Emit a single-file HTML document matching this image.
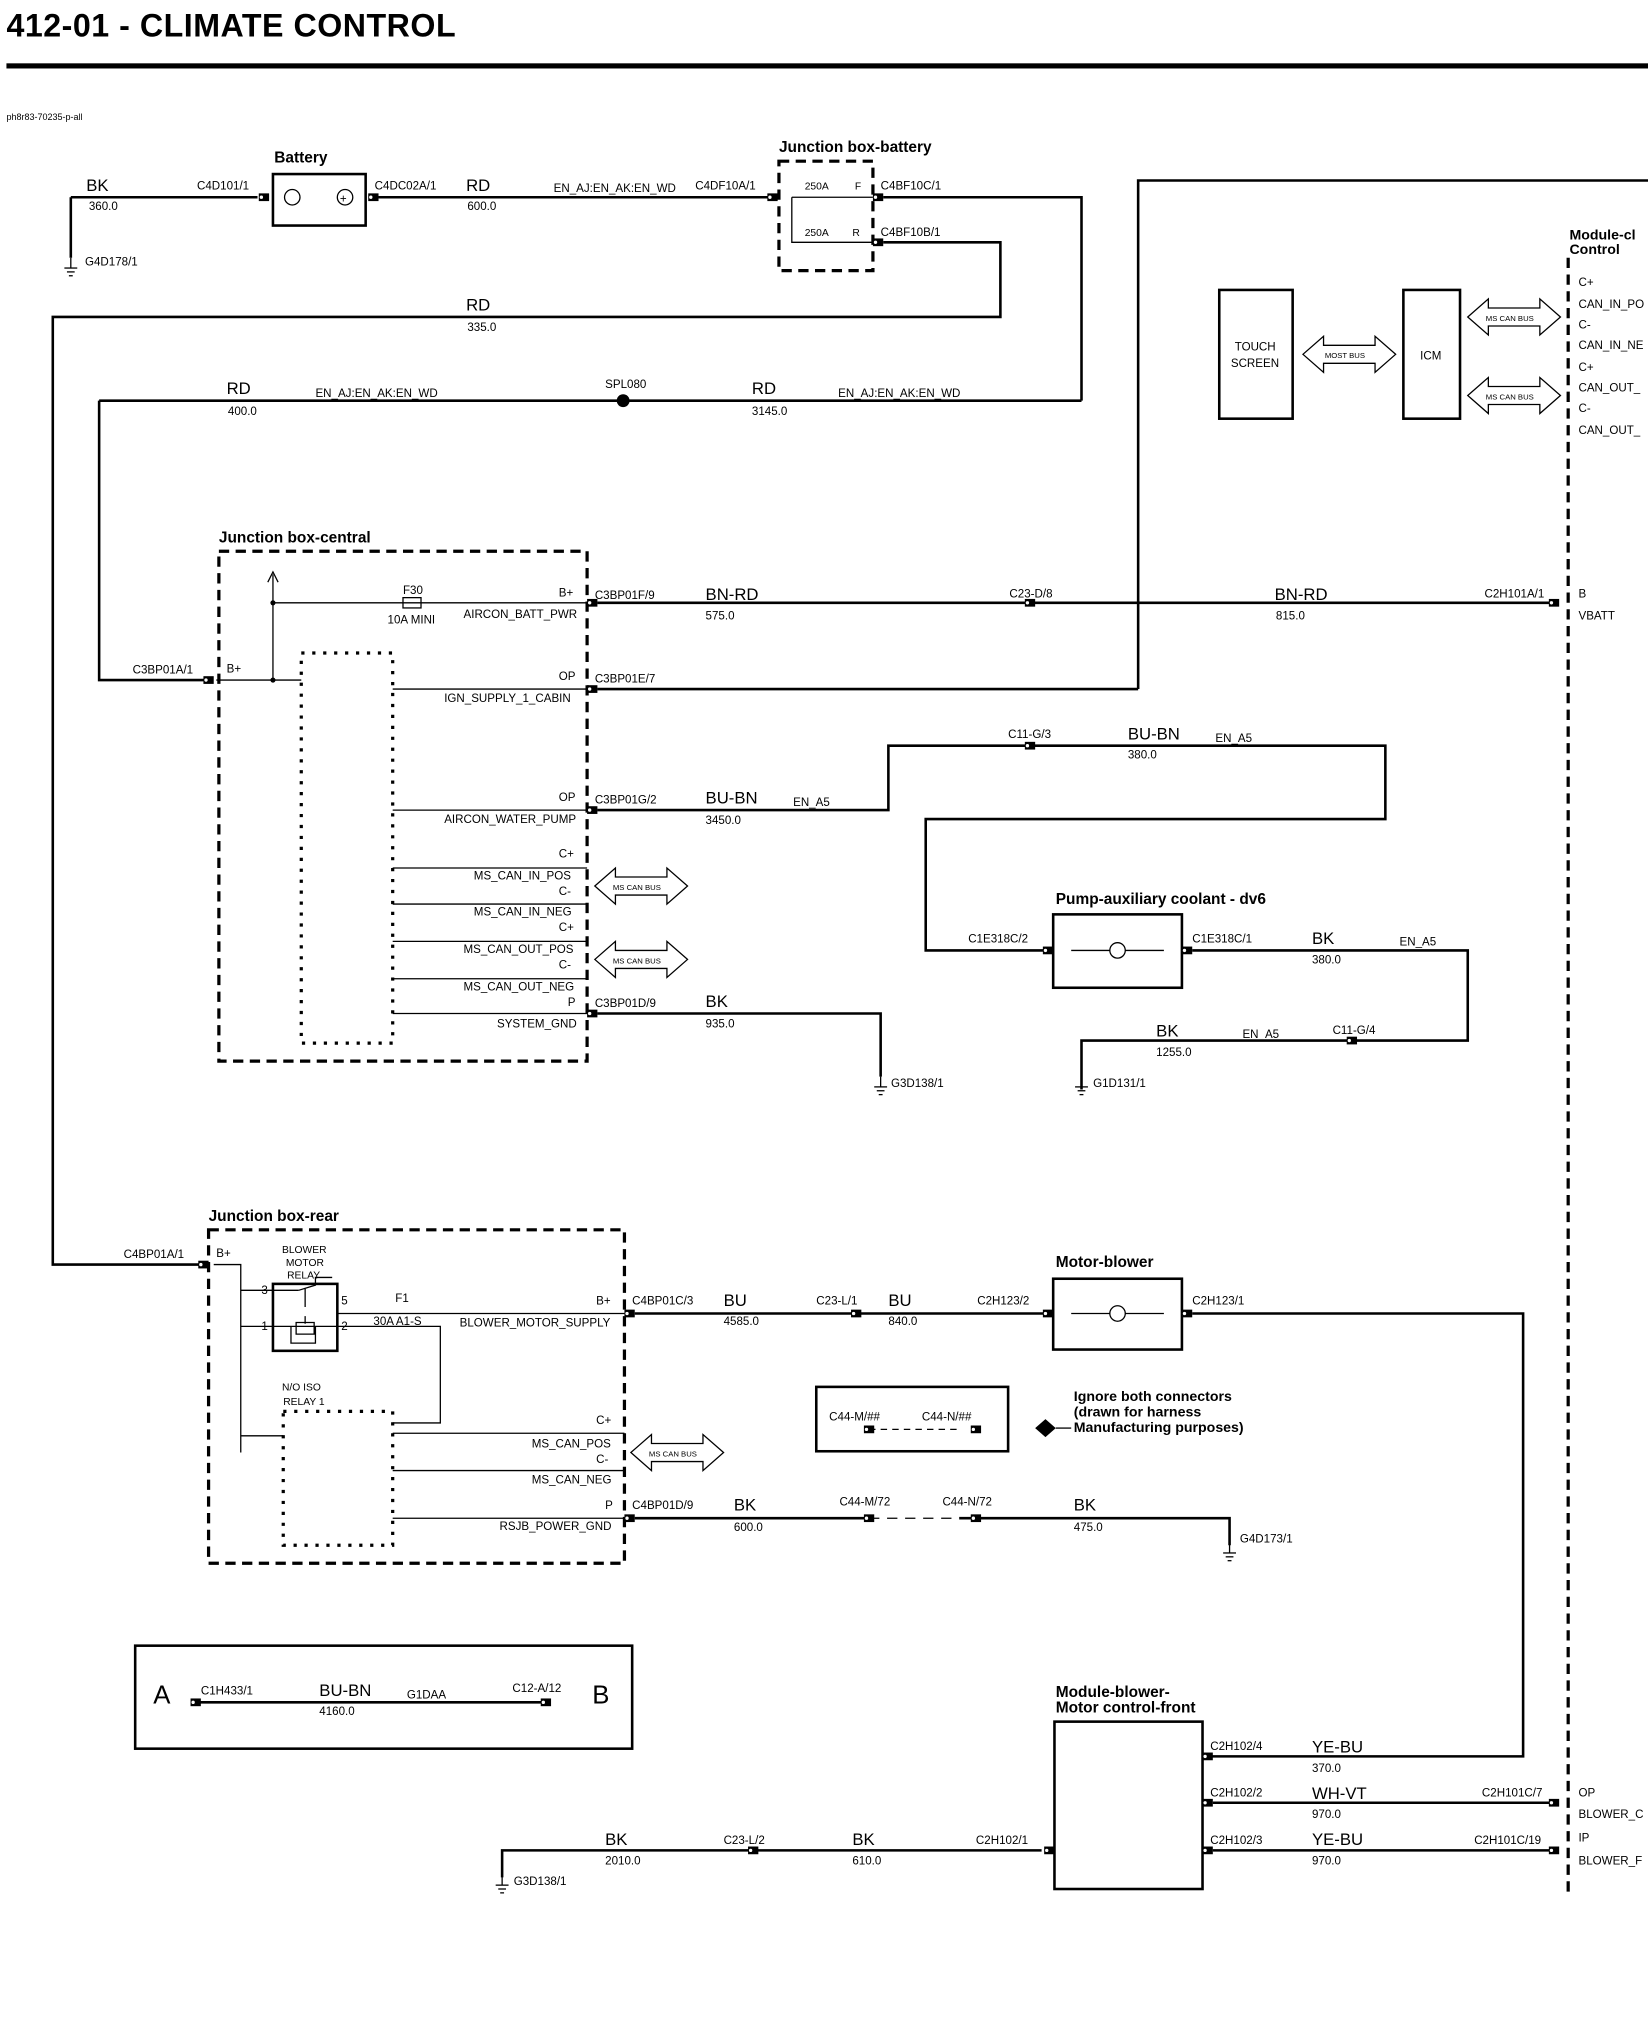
<!DOCTYPE html>
<html><head><meta charset="utf-8"><style>
html,body{margin:0;padding:0;background:#fff}
svg{display:block}
text{font-family:"Liberation Sans",sans-serif;fill:#000}
.s{font-size:9px}.m{font-size:13px}.b{font-weight:bold}
.w{stroke:#000;stroke-width:2;fill:none}
.t{stroke:#000;stroke-width:1;fill:none}
.d{stroke:#000;stroke-width:2.5;fill:none;stroke-dasharray:8,5}
.o{stroke:#000;stroke-width:2.5;fill:none;stroke-dasharray:2.5,6}
</style></head><body>
<svg width="1648" height="2018" viewBox="0 0 1280 1567" xmlns="http://www.w3.org/2000/svg">
<defs>
<g id="c"><rect x="-4" y="-3" width="8" height="6" fill="#000"/><circle cx="-2" cy="0" r="1.3" fill="#fff"/></g>
<g id="g"><line x1="0" y1="0" x2="0" y2="8" class="t"/><line x1="-5" y1="8" x2="5" y2="8" class="t"/><line x1="-3" y1="11" x2="3" y2="11" class="t"/><line x1="-1.5" y1="14" x2="1.5" y2="14" class="t"/></g>
</defs>
<text x="5" y="28" class="b" font-size="25" letter-spacing="0.4">412-01 - CLIMATE CONTROL</text>
<rect x="5" y="49" width="1275" height="4" fill="#000"/>
<text x="5" y="93" font-size="7">ph8r83-70235-p-all</text>

<!-- top battery area -->
<path class="w" d="M55 153H200"/><path class="w" d="M55 153V200"/><use href="#g" x="55" y="200"/>
<text x="67" y="148" class="m">BK</text><text x="69" y="163" class="s">360.0</text>
<text x="66" y="206" class="s">G4D178/1</text>
<text x="153" y="147" class="s">C4D101/1</text><use href="#c" x="205" y="153"/>
<rect x="212" y="135" width="72" height="40" class="w"/>
<text x="213" y="126" class="b" font-size="12">Battery</text>
<circle cx="227" cy="153" r="6" class="t"/><circle cx="268" cy="153" r="6" class="t"/><text x="264" y="157" font-size="9">+</text>
<use href="#c" x="290" y="153"/><text x="291" y="147" class="s">C4DC02A/1</text>
<path class="w" d="M294 153H600"/>
<text x="362" y="148" class="m">RD</text><text x="363" y="163" class="s">600.0</text>
<text x="430" y="149" class="s">EN_AJ:EN_AK:EN_WD</text>
<text x="540" y="147" class="s">C4DF10A/1</text><use href="#c" x="600" y="153"/>
<rect x="605" y="125" width="73" height="85" class="d"/>
<text x="605" y="118" class="b" font-size="12">Junction box-battery</text>
<path class="t" d="M615 153H678M615 153V188H678"/>
<text x="625" y="147" font-size="8">250A</text><text x="664" y="147" font-size="8">F</text>
<text x="625" y="183" font-size="8">250A</text><text x="662" y="183" font-size="8">R</text>
<use href="#c" x="682" y="153"/><use href="#c" x="682" y="188"/>
<text x="684" y="147" class="s">C4BF10C/1</text><text x="684" y="183" class="s">C4BF10B/1</text>
<path class="w" d="M686 153H840V311M686 188H777V246H41V982H158"/>
<text x="362" y="241" class="m">RD</text><text x="363" y="257" class="s">335.0</text>
<path class="w" d="M77 311H840M77 311V528H165"/>
<circle cx="484" cy="311" r="5" fill="#000"/><text x="470" y="301" class="s">SPL080</text>
<text x="176" y="306" class="m">RD</text><text x="177" y="322" class="s">400.0</text>
<text x="245" y="308" class="s">EN_AJ:EN_AK:EN_WD</text>
<text x="584" y="306" class="m">RD</text><text x="584" y="322" class="s">3145.0</text>
<text x="651" y="308" class="s">EN_AJ:EN_AK:EN_WD</text>

<!-- Module right -->
<path class="w" d="M884 535V140H1280"/>
<path class="d" d="M1218 200V1472"/>
<text x="1219" y="186" class="b" font-size="11">Module-cl</text><text x="1219" y="197" class="b" font-size="11">Control</text>
<text x="1226" y="222" class="s">C+</text><text x="1226" y="239" class="s">CAN_IN_PO</text><text x="1226" y="255" class="s">C-</text><text x="1226" y="271" class="s">CAN_IN_NE</text><text x="1226" y="288" class="s">C+</text><text x="1226" y="304" class="s">CAN_OUT_</text><text x="1226" y="320" class="s">C-</text><text x="1226" y="337" class="s">CAN_OUT_</text>
<rect x="947" y="225" width="57" height="100" class="w"/><text x="959" y="272" class="s">TOUCH</text><text x="956" y="285" class="s">SCREEN</text>
<rect x="1090" y="225" width="44" height="100" class="w"/><text x="1103" y="279" class="s">ICM</text>
<path class="t" d="M1012 275L1028 261V268H1068V261L1084 275L1068 289V282H1028V289Z"/><text x="1029" y="278" font-size="6">MOST BUS</text>
<path class="t" d="M1140 246L1156 232V239H1196V232L1212 246L1196 260V253H1156V260Z"/><text x="1154" y="249" font-size="6">MS CAN BUS</text>
<path class="t" d="M1140 307L1156 293V300H1196V293L1212 307L1196 321V314H1156V321Z"/><text x="1154" y="310" font-size="6">MS CAN BUS</text>

<!-- Junction box central -->
<rect x="170" y="428" width="286" height="396" class="d"/>
<text x="170" y="421" class="b" font-size="12">Junction box-central</text>
<rect x="234" y="507" width="71" height="303" class="o"/>
<text x="103" y="523" class="s">C3BP01A/1</text><use href="#c" x="162" y="528"/>
<text x="176" y="522" class="s">B+</text>
<path class="t" d="M168 528H234M212 528V446M208 452L212 444L216 452M212 468H456"/>
<circle cx="212" cy="528" r="2" fill="#000"/><circle cx="212" cy="468" r="2" fill="#000"/>
<rect x="313" y="464" width="14" height="8" class="t" fill="#fff"/>
<text x="313" y="461" class="s">F30</text><text x="301" y="484" class="s">10A MINI</text>
<text x="434" y="463" class="s">B+</text><text x="360" y="480" class="s">AIRCON_BATT_PWR</text>
<path class="t" d="M305 535H456M305 629H456M305 674H456M305 702H456M305 731H456M305 760H456M305 787H456"/>
<text x="434" y="528" class="s">OP</text><text x="345" y="545" class="s">IGN_SUPPLY_1_CABIN</text>
<text x="434" y="622" class="s">OP</text><text x="345" y="639" class="s">AIRCON_WATER_PUMP</text>
<text x="434" y="666" class="s">C+</text><text x="368" y="683" class="s">MS_CAN_IN_POS</text>
<text x="434" y="695" class="s">C-</text><text x="368" y="711" class="s">MS_CAN_IN_NEG</text>
<text x="434" y="723" class="s">C+</text><text x="360" y="740" class="s">MS_CAN_OUT_POS</text>
<text x="434" y="752" class="s">C-</text><text x="360" y="769" class="s">MS_CAN_OUT_NEG</text>
<text x="441" y="781" class="s">P</text><text x="386" y="798" class="s">SYSTEM_GND</text>
<path class="t" d="M462 688L478 674V681H518V674L534 688L518 702V695H478V702Z"/><text x="476" y="691" font-size="6">MS CAN BUS</text>
<path class="t" d="M462 745L478 731V738H518V731L534 745L518 759V752H478V759Z"/><text x="476" y="748" font-size="6">MS CAN BUS</text>
<use href="#c" x="460" y="468"/><use href="#c" x="460" y="535"/><use href="#c" x="460" y="629"/><use href="#c" x="460" y="787"/>
<text x="462" y="465" class="s">C3BP01F/9</text><text x="462" y="530" class="s">C3BP01E/7</text><text x="462" y="624" class="s">C3BP01G/2</text><text x="462" y="782" class="s">C3BP01D/9</text>
<path class="w" d="M464 468H1210M464 535H884M464 629H690V579H1076V636H719V738H812M464 787H684V836"/>
<use href="#c" x="800" y="468"/><use href="#c" x="1207" y="468"/><text x="784" y="464" class="s">C23-D/8</text><text x="1153" y="464" class="s">C2H101A/1</text>
<text x="548" y="466" class="m">BN-RD</text><text x="548" y="481" class="s">575.0</text>
<text x="990" y="466" class="m">BN-RD</text><text x="991" y="481" class="s">815.0</text>
<text x="1226" y="464" class="s">B</text><text x="1226" y="481" class="s">VBATT</text>
<text x="548" y="624" class="m">BU-BN</text><text x="548" y="640" class="s">3450.0</text><text x="616" y="626" class="s">EN_A5</text>
<use href="#c" x="800" y="579"/><text x="783" y="573" class="s">C11-G/3</text>
<text x="876" y="574" class="m">BU-BN</text><text x="876" y="589" class="s">380.0</text><text x="944" y="576" class="s">EN_A5</text>
<use href="#g" x="684" y="836"/><text x="692" y="844" class="s">G3D138/1</text>
<text x="548" y="782" class="m">BK</text><text x="548" y="798" class="s">935.0</text>

<!-- pump -->
<rect x="818" y="710" width="100" height="57" class="w"/>
<text x="820" y="702" class="b" font-size="12">Pump-auxiliary coolant - dv6</text>
<circle cx="868" cy="738" r="6" class="t"/><path class="t" d="M832 738H862M874 738H904"/>
<use href="#c" x="814" y="738"/><use href="#c" x="922" y="738"/>
<text x="752" y="732" class="s">C1E318C/2</text><text x="926" y="732" class="s">C1E318C/1</text>
<path class="w" d="M926 738H1140V808H840V846"/>
<text x="1019" y="733" class="m">BK</text><text x="1019" y="748" class="s">380.0</text><text x="1087" y="734" class="s">EN_A5</text>
<use href="#c" x="1050" y="808"/><text x="1035" y="803" class="s">C11-G/4</text>
<text x="898" y="805" class="m">BK</text><text x="898" y="820" class="s">1255.0</text><text x="965" y="806" class="s">EN_A5</text>
<use href="#g" x="840" y="836"/><text x="849" y="844" class="s">G1D131/1</text>

<!-- junction box rear -->
<rect x="162" y="955" width="323" height="259" class="d"/>
<text x="162" y="948" class="b" font-size="12">Junction box-rear</text>
<rect x="220" y="1096" width="85" height="104" class="o"/>
<text x="96" y="977" class="s">C4BP01A/1</text><use href="#c" x="158" y="982"/>
<text x="168" y="976" class="s">B+</text>
<path class="t" d="M166 982H187V1128M187 1002H232M187 1030H342V1105H305M187 1115H220"/>
<rect x="212" y="997" width="50" height="52" class="w"/>
<text x="219" y="973" font-size="8">BLOWER</text><text x="222" y="983" font-size="8">MOTOR</text><text x="223" y="993" font-size="8">RELAY</text>
<text x="219" y="1080" font-size="8">N/O ISO</text><text x="220" y="1091" font-size="8">RELAY 1</text>
<text x="203" y="1005" class="s">3</text><text x="203" y="1033" class="s">1</text><text x="265" y="1013" class="s">5</text><text x="265" y="1033" class="s">2</text>
<path class="t" d="M232 1002L245 998V992L258 992M237 1000V1015M237 1022V1028M226 1030V1043H245V1030M230 1027H244V1036H230Z"/>
<path class="t" d="M262 1020H485"/>
<text x="307" y="1011" class="s">F1</text><text x="290" y="1029" class="s">30A A1-S</text>
<text x="463" y="1013" class="s">B+</text><text x="357" y="1030" class="s">BLOWER_MOTOR_SUPPLY</text>
<path class="t" d="M305 1113H485M305 1142H485M305 1179H485"/>
<text x="463" y="1106" class="s">C+</text><text x="413" y="1124" class="s">MS_CAN_POS</text>
<text x="463" y="1136" class="s">C-</text><text x="413" y="1152" class="s">MS_CAN_NEG</text>
<text x="470" y="1172" class="s">P</text><text x="388" y="1188" class="s">RSJB_POWER_GND</text>
<path class="t" d="M490 1128L506 1114V1121H546V1114L562 1128L546 1142V1135H506V1142Z"/><text x="504" y="1131" font-size="6">MS CAN BUS</text>
<use href="#c" x="489" y="1020"/><use href="#c" x="489" y="1179"/>
<text x="491" y="1013" class="s">C4BP01C/3</text><text x="491" y="1172" class="s">C4BP01D/9</text>
<path class="w" d="M493 1020H812M926 1020H1183V1364H940"/>
<use href="#c" x="665" y="1020"/><text x="634" y="1013" class="s">C23-L/1</text>
<text x="562" y="1014" class="m">BU</text><text x="562" y="1029" class="s">4585.0</text>
<text x="690" y="1014" class="m">BU</text><text x="690" y="1029" class="s">840.0</text>
<rect x="818" y="993" width="100" height="55" class="w"/>
<text x="820" y="984" class="b" font-size="12">Motor-blower</text>
<circle cx="868" cy="1020" r="6" class="t"/><path class="t" d="M832 1020H862M874 1020H904"/>
<use href="#c" x="814" y="1020"/><use href="#c" x="922" y="1020"/>
<text x="759" y="1013" class="s">C2H123/2</text><text x="926" y="1013" class="s">C2H123/1</text>
<path class="w" d="M493 1179H675M745 1179H955V1200"/><path class="t" d="M675 1179H745" stroke-dasharray="8,6"/>
<use href="#c" x="675" y="1179"/><use href="#c" x="758" y="1179"/>
<text x="652" y="1169" class="s">C44-M/72</text><text x="732" y="1169" class="s">C44-N/72</text>
<text x="570" y="1173" class="m">BK</text><text x="570" y="1189" class="s">600.0</text>
<text x="834" y="1173" class="m">BK</text><text x="834" y="1189" class="s">475.0</text>
<use href="#g" x="955" y="1198"/><text x="963" y="1198" class="s">G4D173/1</text>

<rect x="634" y="1077" width="149" height="50" class="w"/>
<text x="644" y="1103" class="s">C44-M/##</text><text x="716" y="1103" class="s">C44-N/##</text>
<path class="t" d="M675 1110H745" stroke-dasharray="5,4"/><use href="#c" x="675" y="1110"/><use href="#c" x="758" y="1110"/>
<path d="M812 1102L820 1109L812 1116L804 1109Z" fill="#000"/><path class="t" d="M820 1109H832"/>
<text x="834" y="1088" class="b" font-size="11">Ignore both connectors</text>
<text x="834" y="1100" class="b" font-size="11">(drawn for harness</text>
<text x="834" y="1112" class="b" font-size="11">Manufacturing purposes)</text>

<rect x="105" y="1278" width="386" height="80" class="w"/>
<text x="119" y="1323" font-size="20">A</text><text x="460" y="1323" font-size="20">B</text>
<path class="w" d="M152 1322H426"/><use href="#c" x="152" y="1322"/><use href="#c" x="424" y="1322"/>
<text x="156" y="1316" class="s">C1H433/1</text><text x="398" y="1314" class="s">C12-A/12</text>
<text x="248" y="1317" class="m">BU-BN</text><text x="248" y="1332" class="s">4160.0</text><text x="316" y="1319" class="s">G1DAA</text>

<!-- module blower front -->
<rect x="819" y="1337" width="115" height="130" class="w"/>
<text x="820" y="1318" class="b" font-size="12">Module-blower-</text><text x="820" y="1330" class="b" font-size="12">Motor control-front</text>
<use href="#c" x="938" y="1364"/><use href="#c" x="938" y="1400"/><use href="#c" x="938" y="1437"/><use href="#c" x="815" y="1437"/>
<text x="940" y="1359" class="s">C2H102/4</text><text x="940" y="1395" class="s">C2H102/2</text><text x="940" y="1432" class="s">C2H102/3</text>
<path class="w" d="M942 1400H1210M942 1437H1210M809 1437H390V1458"/>
<use href="#c" x="1207" y="1400"/><use href="#c" x="1207" y="1437"/>
<text x="1019" y="1361" class="m">YE-BU</text><text x="1019" y="1376" class="s">370.0</text>
<text x="1019" y="1397" class="m">WH-VT</text><text x="1019" y="1412" class="s">970.0</text>
<text x="1019" y="1433" class="m">YE-BU</text><text x="1019" y="1448" class="s">970.0</text>
<text x="1151" y="1395" class="s">C2H101C/7</text><text x="1145" y="1432" class="s">C2H101C/19</text>
<text x="1226" y="1395" class="s">OP</text><text x="1226" y="1412" class="s">BLOWER_C</text>
<text x="1226" y="1430" class="s">IP</text><text x="1226" y="1448" class="s">BLOWER_F</text>
<use href="#c" x="585" y="1437"/><text x="562" y="1432" class="s">C23-L/2</text>
<text x="470" y="1433" class="m">BK</text><text x="470" y="1448" class="s">2010.0</text>
<text x="662" y="1433" class="m">BK</text><text x="662" y="1448" class="s">610.0</text>
<text x="758" y="1432" class="s">C2H102/1</text>
<use href="#g" x="390" y="1456"/><text x="399" y="1464" class="s">G3D138/1</text>
</svg>
</body></html>
